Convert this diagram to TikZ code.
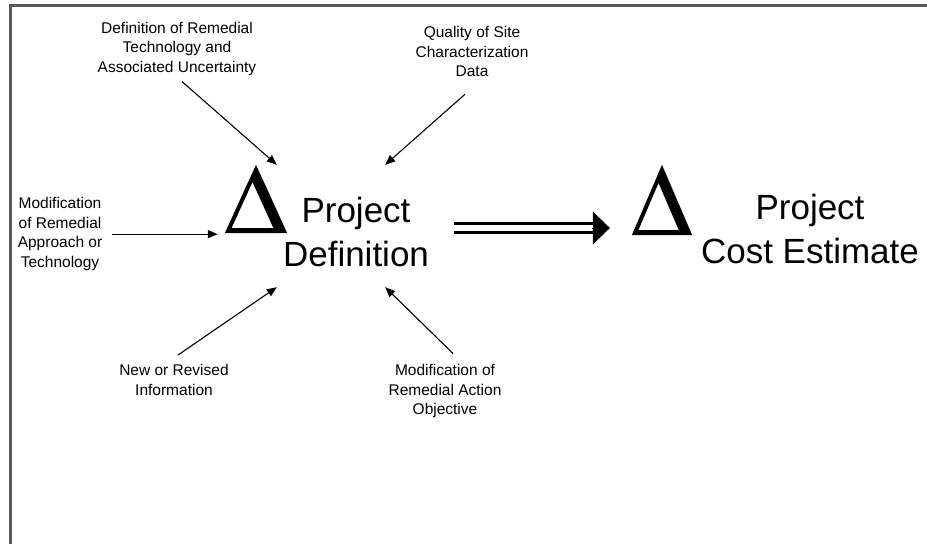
\documentclass[tikz,border=0pt]{standalone}
\usepackage{fontspec}
\setmainfont{Liberation Sans}
\usetikzlibrary{arrows.meta,calc}
\definecolor{framegray}{RGB}{90,90,90}

\begin{document}
\begin{tikzpicture}[
  x=1pt, y=-1pt,
  lbl/.style={align=center, inner sep=0pt, anchor=north,
              font=\fontsize{15.5}{19.5}\selectfont},
  big/.style={align=center, inner sep=0pt, font=\fontsize{35}{44}\selectfont},
  delta/.style={inner sep=0pt},
  deltafill/.style={fill=black, even odd rule},
  inarr/.style={-{Triangle[length=10pt,width=8pt]}, line width=1.1pt},
  shaft/.style={double, double distance=6.5pt, line width=2.4pt},
  head/.style={-{Triangle[length=17pt,width=33pt]}, line width=0.5pt}
]
\useasboundingbox (0,0) rectangle (927,544);
\draw[framegray, line width=2.6pt] (10.5,544) -- (10.5,5.3) -- (927,5.3);

\node[delta, minimum width=62pt, minimum height=68pt] (deltaA) at (256,199) {};
\node[big] (projdef) at (356,232) {Project\\Definition};
\node[delta, minimum width=60pt, minimum height=70pt] (deltaB) at (662,200) {};
\node[big] (costest) at (810,229) {Project\\Cost Estimate};
\node[minimum width=108pt, minimum height=122pt, inner sep=0pt] (hub) at (331,226) {};
\coordinate (mid) at (0,228);

% the two delta signs, thin left side, heavy right side
\fill[deltafill] (deltaA.south west) -- (deltaA.north) -- (deltaA.south east) -- cycle
  ($(deltaA.south west)+(6.7,-5)$) -- ($(deltaA.south west)+(27.7,-51.1)$)
  -- ($(deltaA.south west)+(48.7,-5)$) -- cycle;
\fill[deltafill] (deltaB.south west) -- (deltaB.north) -- (deltaB.south east) -- cycle
  ($(deltaB.south west)+(6.5,-5)$) -- ($(deltaB.south west)+(26.75,-52.2)$)
  -- ($(deltaB.south west)+(47,-5)$) -- cycle;

\node[lbl] (techdef) at (177,21.7) {Definition of Remedial\\Technology and\\Associated Uncertainty};
\node[lbl] (sitedata) at (472,26.5) {Quality of Site\\Characterization\\Data};
\node[lbl] (approach) at (60,197.5) {Modification\\of Remedial\\Approach or\\Technology};
\node[lbl] (newinfo) at (174,364.5) {New or Revised\\Information};
\node[lbl] (objective) at (445,364.5) {Modification of\\Remedial Action\\Objective};

\draw[inarr] ($(techdef.south)+(5,6)$) -- (hub.north west);
\draw[inarr] ($(sitedata.south)+(-7,17)$) -- (hub.north east);
\draw[inarr, shorten >=7pt] ($(approach.east)+(10,0)$) -- (deltaA.west |- approach.east);
\draw[inarr] ($(newinfo.north)+(4,-9.5)$) -- (hub.south west);
\draw[inarr] ($(objective.north)+(8,-11)$) -- (hub.south east);

\draw[shaft, shorten <=25pt, shorten >=37pt] (projdef.east |- mid) -- (deltaB.west |- mid);
\draw[head, shorten >=22pt] ($(deltaB.west |- mid)+(-40,0)$) -- (deltaB.west |- mid);
\end{tikzpicture}
\end{document}
